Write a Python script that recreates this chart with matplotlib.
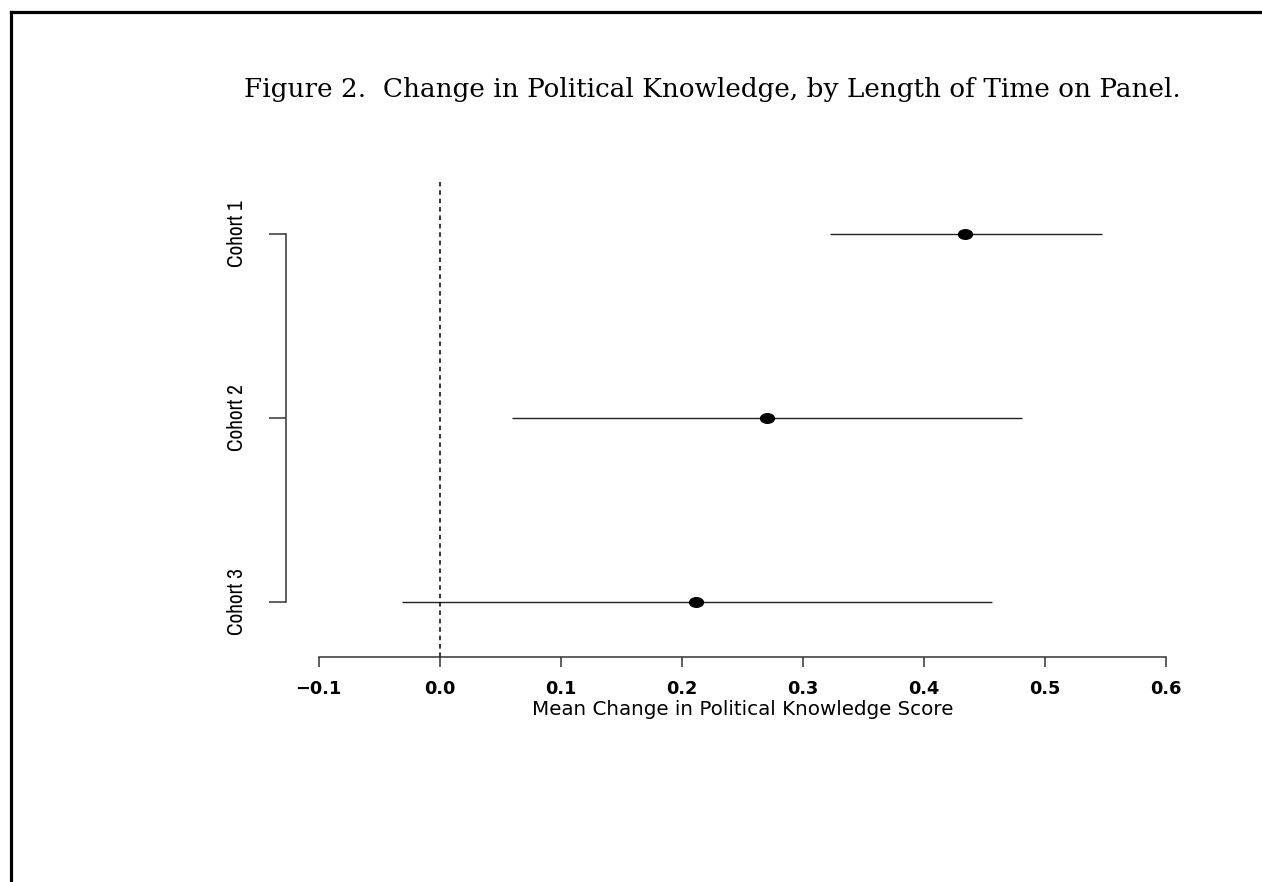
import matplotlib
matplotlib.use("Agg")
import matplotlib.pyplot as plt
from matplotlib import font_manager
from matplotlib.lines import Line2D
from matplotlib.path import Path
from matplotlib.transforms import Affine2D

cohorts = ["Cohort 1", "Cohort 2", "Cohort 3"]
means = [0.434, 0.270, 0.212]
lower = [0.322, 0.060, -0.031]
upper = [0.547, 0.481, 0.456]
xticks = [-0.1, 0.0, 0.1, 0.2, 0.3, 0.4, 0.5, 0.6]
title = "Figure 2.  Change in Political Knowledge, by Length of Time on Panel."
xlabel = "Mean Change in Political Knowledge Score"

# the cohort labels look condensed in the original; use a narrow face if there is one
fonts = font_manager.fontManager.ttflist
narrow = [f for f in fonts if "Narrow" in f.name or "Condensed" in f.name]
if narrow:
    ylab_kw = dict(family=narrow[0].name, fontsize=15.3)
else:
    ylab_kw = dict(family="Liberation Sans", fontsize=13)

W, H = 1262, 882
fig = plt.figure(figsize=(W / 100, H / 100), dpi=100)

# page frame (top and left rules)
fig.add_artist(Line2D([11 / W, 1.0], [1 - 12 / H, 1 - 12 / H], color="black", lw=2.3))
fig.add_artist(Line2D([11 / W, 11 / W], [0.0, 1 - 12 / H], color="black", lw=2.3))

fig.text(712 / W, 1 - 89 / H, title, family="DejaVu Serif", fontsize=18.9,
         ha="center", va="center")

ax = fig.add_axes([286 / W, 1 - 657 / H, (1199 - 286) / W, (657 - 182) / H])
ypos = list(range(1, len(cohorts) + 1))

ellipse = Path.unit_circle().transformed(Affine2D().scale(1.45, 1.0))
ax.hlines(ypos, lower, upper, color="#222222", lw=1.0)
ax.plot(means, ypos, linestyle="none", marker=ellipse, markersize=10,
        color="black")
ax.axvline(0.0, color="black", lw=1.1, linestyle=(0, (3, 2.5)))

ax.set_xlim(-0.127, 0.627)
ax.set_ylim(3.299, 0.717)

for side in ("top", "right"):
    ax.spines[side].set_visible(False)
ax.spines["left"].set_bounds(1, 3)
ax.spines["bottom"].set_bounds(-0.1, 0.6)
for side in ("left", "bottom"):
    ax.spines[side].set_color("#333333")
    ax.spines[side].set_linewidth(1.1)

ax.set_xticks(xticks)
ax.set_xticklabels(["\u22120.1"] + [f"{t:.1f}" for t in xticks[1:]],
                   family="DejaVu Sans", fontweight="bold", fontsize=12.8)
ax.set_yticks(ypos)
ax.set_yticklabels(cohorts, rotation=90, va="center", **ylab_kw)
ax.tick_params(axis="both", direction="out", width=1.1, color="#333333")
ax.tick_params(axis="x", length=7.5, pad=9)
ax.tick_params(axis="y", length=12, pad=16)

ax.set_xlabel(xlabel, family="DejaVu Sans", fontsize=14.3, labelpad=1.5)

fig.savefig("out.png", dpi=100)
